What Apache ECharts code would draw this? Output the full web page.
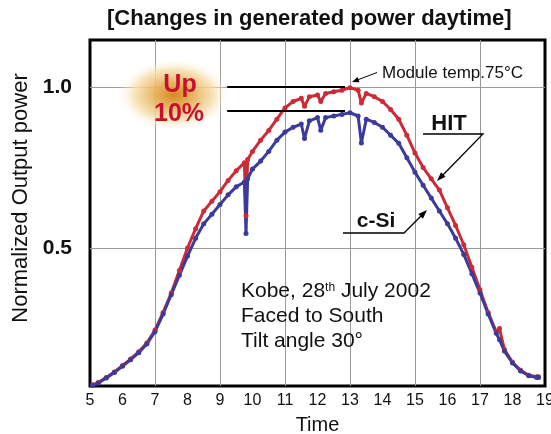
<!DOCTYPE html>
<html>
<head>
<meta charset="utf-8">
<script src="https://cdn.jsdelivr.net/npm/echarts@6/dist/echarts.min.js"></script>
<style>
html,body{margin:0;padding:0;background:#fff;}
#chart{width:551px;height:434px;}
</style>
</head>
<body>
<div id="chart"></div>
<script>
// ---- data ----
const hours = [5.08,5.25,5.5,5.75,6.0,6.25,6.5,6.75,7.0,7.25,7.5,7.75,8.0,8.25,8.5,8.75,9.0,9.25,9.5,9.75,9.8,9.85,10.0,10.25,10.5,10.75,11.0,11.25,11.5,11.6,11.75,12.0,12.1,12.25,12.5,12.75,13.0,13.25,13.35,13.5,13.75,14.0,14.25,14.5,14.75,15.0,15.25,15.5,15.75,16.0,16.25,16.5,16.75,17.0,17.25,17.5,17.6,17.75,18.0,18.25,18.5,18.75,18.8];
const hitValues = [0.075,0.082,0.098,0.115,0.135,0.155,0.178,0.205,0.245,0.30,0.36,0.43,0.50,0.56,0.615,0.645,0.675,0.71,0.74,0.765,0.60,0.775,0.80,0.835,0.865,0.90,0.935,0.955,0.965,0.94,0.97,0.975,0.955,0.98,0.985,0.99,0.998,0.99,0.95,0.98,0.97,0.955,0.93,0.90,0.85,0.795,0.75,0.715,0.68,0.625,0.57,0.51,0.44,0.37,0.30,0.24,0.25,0.185,0.145,0.12,0.105,0.10,0.10];
const csiValues = [0.073,0.08,0.096,0.113,0.133,0.153,0.175,0.202,0.24,0.295,0.355,0.415,0.475,0.53,0.575,0.605,0.635,0.665,0.69,0.705,0.545,0.715,0.745,0.77,0.80,0.835,0.86,0.875,0.885,0.84,0.895,0.905,0.866,0.905,0.91,0.915,0.92,0.91,0.826,0.90,0.89,0.875,0.85,0.825,0.78,0.735,0.695,0.655,0.615,0.575,0.53,0.48,0.42,0.36,0.295,0.235,0.215,0.18,0.143,0.118,0.103,0.098,0.098];
const xTickLabels = [5,6,7,8,9,10,11,12,13,14,15,16,17,18,19];
const xGridValues = [7,9,11,13,15,17];
const yTickLabels = [0.5,1.0];
const peakLevels = [1.0,0.926];      // "Up 10%" reference lines (HIT peak, c-Si peak)
const peakSpan = [9.22,12.85];

const FONT = 'Liberation Sans, Arial, Helvetica, sans-serif';
const chart = echarts.init(document.getElementById('chart'), null, {renderer:'canvas'});

function arrow(x1,y1,x2,y2,len,hw){
  const dx=x2-x1, dy=y2-y1, L=Math.sqrt(dx*dx+dy*dy), ux=dx/L, uy=dy/L;
  const bx=x2-ux*len, by=y2-uy*len, px=-uy, py=ux;
  return {type:'polygon', z:20, shape:{points:[[x2,y2],[bx+px*hw,by+py*hw],[bx-px*hw,by-py*hw]]}, style:{fill:'#000'}};
}

const option = {
  backgroundColor:'#fff',
  animation:false,
  title:{
    text:'[Changes in generated power daytime]',
    left:102, top:3,
    textStyle:{fontFamily:FONT, fontSize:22, fontWeight:'bold', color:'#111'}
  },
  grid:{left:90, right:6, top:40, bottom:48, containLabel:false, outerBoundsMode:'none',
        show:true, borderColor:'#000', borderWidth:3, backgroundColor:'transparent'},
  xAxis:{
    type:'value', min:5, max:19,
    name:'Time', nameLocation:'middle', nameGap:29,
    nameTextStyle:{fontFamily:FONT, fontSize:20, color:'#111'},
    axisLine:{show:false},
    axisTick:{show:false, customValues:xGridValues},
    axisLabel:{customValues:xTickLabels, fontFamily:FONT, fontSize:16, color:'#111', margin:7},
    splitLine:{show:true, lineStyle:{color:'#9a9a9a', width:1}}
  },
  yAxis:{
    type:'value', min:0.0714, max:1.146,
    name:'Normalized Output power', nameLocation:'middle', nameGap:45,
    nameTextStyle:{fontFamily:FONT, fontSize:22, color:'#111', padding:[0,0,0,30]},
    axisLine:{show:false},
    axisTick:{show:false, customValues:yTickLabels},
    axisLabel:{customValues:yTickLabels, fontFamily:FONT, fontSize:21, fontWeight:'bold', color:'#111', margin:18,
      formatter:v=>v.toFixed(1)},
    splitLine:{show:true, lineStyle:{color:'#9a9a9a', width:1}}
  },
  series:[
    {
      name:'HIT', type:'line', z:3,
      data:hours.map((t,i)=>[t,hitValues[i]]),
      symbol:'circle', symbolSize:5, showSymbol:true,
      lineStyle:{color:'#cc2a36', width:3},
      itemStyle:{color:'#cc2a36'},
      markLine:{
        silent:true, symbol:'none', z:4,
        lineStyle:{color:'#000', width:2, type:'solid'},
        label:{show:false},
        data: peakLevels.map(v=>[{coord:[peakSpan[0],v]},{coord:[peakSpan[1],v]}])
      }
    },
    {
      name:'c-Si', type:'line', z:3,
      data:hours.map((t,i)=>[t,csiValues[i]]),
      symbol:'circle', symbolSize:5, showSymbol:true,
      lineStyle:{color:'#3b3b9c', width:3},
      itemStyle:{color:'#3b3b9c'}
    }
  ],
  graphic:[
    {type:'circle', z:5, x:174, y:95, scaleX:1, scaleY:0.64,
     shape:{cx:0, cy:0, r:56},
     style:{fill:{type:'radial', x:0.5, y:0.5, r:0.5, colorStops:[
       {offset:0, color:'rgba(212,138,32,1)'},
       {offset:0.35, color:'rgba(232,178,92,0.95)'},
       {offset:0.7, color:'rgba(246,220,168,0.8)'},
       {offset:1, color:'rgba(255,250,240,0)'}]}}},
    {type:'text', z:6, x:180, y:85, style:{text:'Up', fontFamily:FONT, fontSize:25, fontWeight:'bold', fill:'#c8102e', align:'center', verticalAlign:'middle'}},
    {type:'text', z:6, x:179, y:114, style:{text:'10%', fontFamily:FONT, fontSize:25, fontWeight:'bold', fill:'#c8102e', align:'center', verticalAlign:'middle'}},
    {type:'text', z:6, x:382, y:73, style:{text:'Module temp.75°C', fontFamily:FONT, fontSize:17, fill:'#111', align:'left', verticalAlign:'middle'}},
    {type:'line', z:20, shape:{x1:377, y1:72.5, x2:356, y2:80.5}, style:{stroke:'#000', lineWidth:1}},
    arrow(377,72.5,352,82,7,2.8),
    {type:'text', z:6, x:449, y:124, style:{text:'HIT', fontFamily:FONT, fontSize:22, fontWeight:'bold', fill:'#111', align:'center', verticalAlign:'middle'}},
    {type:'polyline', z:20, shape:{points:[[423,134],[483,134],[441,177]]}, style:{stroke:'#000', lineWidth:1.3, fill:null}},
    arrow(483,134,437,181,9,3.2),
    {type:'text', z:6, x:376, y:221, style:{text:'c-Si', fontFamily:FONT, fontSize:21, fontWeight:'bold', fill:'#111', align:'center', verticalAlign:'middle'}},
    {type:'polyline', z:20, shape:{points:[[343,233],[404,233],[422,215]]}, style:{stroke:'#000', lineWidth:1.3, fill:null}},
    arrow(404,233,427,210,9,3.2),
    {type:'text', z:6, x:241, y:279, style:{
      text:'{a|Kobe, 28}{s|th}{a| July 2002}\n{a|Faced to South}\n{a|Tilt angle 30°}',
      rich:{
        a:{fontFamily:FONT, fontSize:21, fill:'#111', color:'#111', lineHeight:25},
        s:{fontFamily:FONT, fontSize:12, fill:'#111', color:'#111', lineHeight:25, verticalAlign:'top', padding:[3,0,0,0]}
      }
    }}
  ]
};
chart.setOption(option);
</script>
</body>
</html>
